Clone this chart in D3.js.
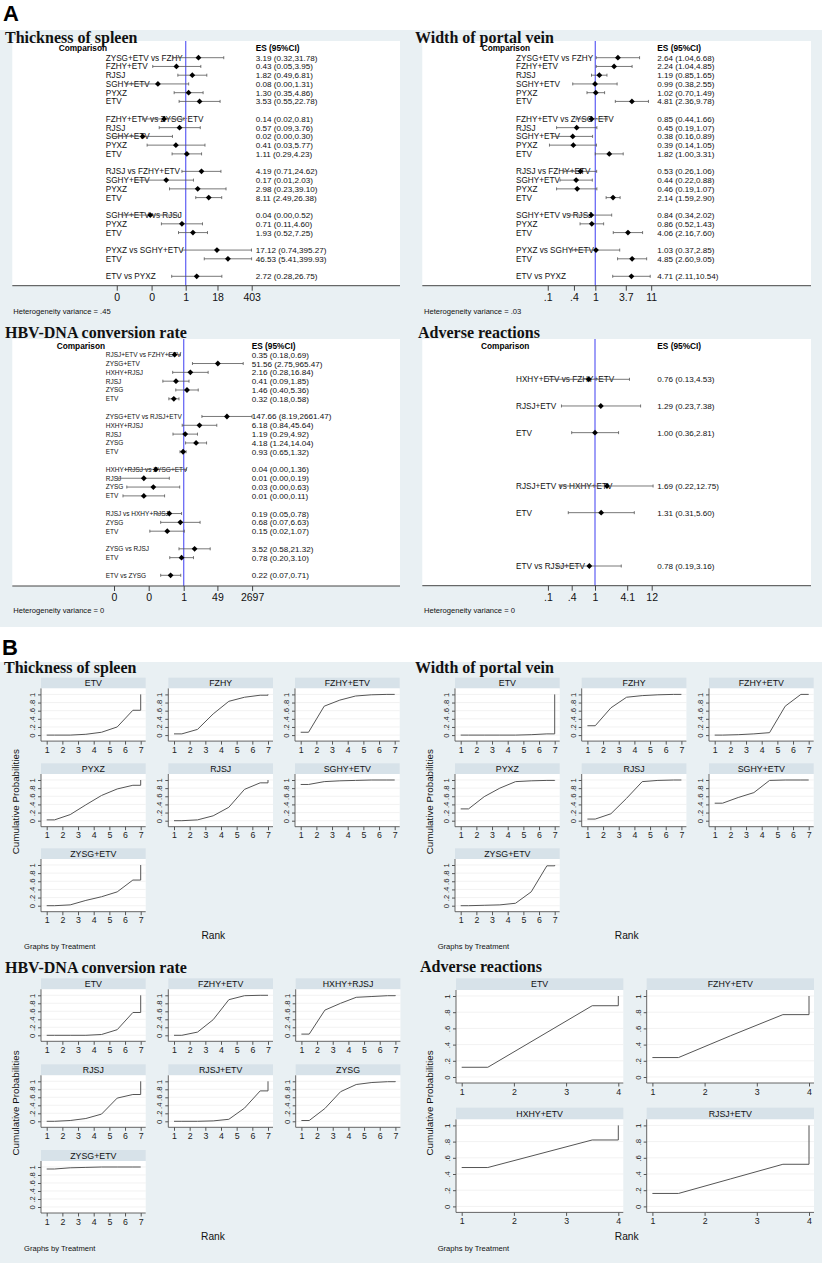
<!DOCTYPE html>
<html>
<head>
<meta charset="utf-8">
<script src="https://cdn.jsdelivr.net/npm/d3@7"></script>
<style>
  body { margin: 0; background: #fff; }
</style>
</head>
<body>
<svg id="fig" width="830" height="1266" font-family='"Liberation Sans", Arial, sans-serif'></svg>
<script>
// ---------- forest plot data (A) ----------
var spleenGroups = [6, 5, 4, 3, 2, 1];
var spleenLabels = ["ZYSG+ETV vs FZHY", "FZHY+ETV", "RJSJ", "SGHY+ETV", "PYXZ", "ETV",
  "FZHY+ETV vs ZYSG+ETV", "RJSJ", "SGHY+ETV", "PYXZ", "ETV",
  "RJSJ vs FZHY+ETV", "SGHY+ETV", "PYXZ", "ETV",
  "SGHY+ETV vs RJSJ", "PYXZ", "ETV",
  "PYXZ vs SGHY+ETV", "ETV",
  "ETV vs PYXZ"];
var spleenES = [3.19, 0.43, 1.82, 0.08, 1.30, 3.53, 0.14, 0.57, 0.02, 0.41, 1.11, 4.19, 0.17, 2.98, 8.11, 0.04, 0.71, 1.93, 17.12, 46.53, 2.72];
var spleenLo = [0.32, 0.05, 0.49, 0.0049, 0.35, 0.55, 0.02, 0.09, 0.0013, 0.03, 0.29, 0.71, 0.01, 0.23, 2.49, 0.0031, 0.11, 0.52, 0.74, 5.41, 0.28];
var spleenHi = [31.78, 3.95, 6.81, 1.31, 4.86, 22.78, 0.81, 3.76, 0.30, 5.77, 4.23, 24.62, 2.03, 39.10, 26.38, 0.52, 4.60, 7.25, 395.27, 399.93, 26.75];
var spleenTicks = [0.0019, 0.045, 1, 18, 403];
var spleenTickLabels = ["0", "0", "1", "18", "403"];

var portalGroups = [6, 5, 4, 3, 2, 1];
var portalLabels = spleenLabels.slice();
var portalES = [2.64, 2.24, 1.19, 0.99, 1.02, 4.81, 0.85, 0.45, 0.38, 0.39, 1.82, 0.53, 0.44, 0.46, 2.14, 0.84, 0.86, 4.06, 1.03, 4.85, 4.71];
var portalLo = [1.04, 1.04, 0.85, 0.38, 0.70, 2.36, 0.44, 0.19, 0.16, 0.14, 1.00, 0.26, 0.22, 0.19, 1.59, 0.34, 0.52, 2.16, 0.37, 2.60, 2.11];
var portalHi = [6.68, 4.85, 1.65, 2.55, 1.49, 9.78, 1.66, 1.07, 0.89, 1.05, 3.31, 1.06, 0.88, 1.07, 2.90, 2.02, 1.43, 7.60, 2.85, 9.05, 10.54];
var portalTicks = [0.13, 0.4, 1, 3.7, 11];
var portalTickLabels = [".1", ".4", "1", "3.7", "11"];

var hbvGroups = [6, 5, 4, 3, 2, 1];
var hbvLabels = ["RJSJ+ETV vs FZHY+ETV", "ZYSG+ETV", "HXHY+RJSJ", "RJSJ", "ZYSG", "ETV",
  "ZYSG+ETV vs RJSJ+ETV", "HXHY+RJSJ", "RJSJ", "ZYSG", "ETV",
  "HXHY+RJSJ vs ZYSG+ETV", "RJSJ", "ZYSG", "ETV",
  "RJSJ vs HXHY+RJSJ", "ZYSG", "ETV",
  "ZYSG vs RJSJ", "ETV",
  "ETV vs ZYSG"];
var hbvES = [0.35, 51.56, 2.16, 0.41, 1.46, 0.32, 147.66, 6.18, 1.19, 4.18, 0.93, 0.04, 0.01, 0.03, 0.01, 0.19, 0.68, 0.15, 3.52, 0.78, 0.22];
var hbvLo = [0.18, 2.75, 0.28, 0.09, 0.40, 0.18, 8.19, 0.84, 0.29, 1.24, 0.65, 0.0012, 0.0005, 0.0014, 0.0009, 0.05, 0.07, 0.02, 0.58, 0.20, 0.07];
var hbvHi = [0.69, 965.47, 16.84, 1.85, 5.36, 0.58, 2661.47, 45.64, 4.92, 14.04, 1.32, 1.36, 0.19, 0.63, 0.11, 0.78, 6.63, 1.07, 21.32, 3.10, 0.71];
var hbvTicks = [0.00032, 0.0175, 1, 49, 2697];
var hbvTickLabels = ["0", "0", "1", "49", "2697"];

var adverseGroups = [3, 2, 1];
var adverseLabels = ["HXHY+ETV vs FZHY+ETV", "RJSJ+ETV", "ETV", "RJSJ+ETV vs HXHY+ETV", "ETV", "ETV vs RJSJ+ETV"];
var adverseES = [0.76, 1.29, 1.00, 1.69, 1.31, 0.78];
var adverseLo = [0.13, 0.23, 0.36, 0.22, 0.31, 0.19];
var adverseHi = [4.53, 7.38, 2.81, 12.75, 5.60, 3.16];
var adverseTicks = [0.127, 0.36, 1, 4.1, 12];
var adverseTickLabels = [".1", ".4", "1", "4.1", "12"];

// ---------- cumulative rank data (B) ----------
var rankTicks7 = [1, 2, 3, 4, 5, 6, 7];
var rankTicks4 = [1, 2, 3, 4];
var probTicks = [0, 0.2, 0.4, 0.6, 0.8, 1];
var probTickLabels = ["0", ".2", ".4", ".6", ".8", "1"];

var spleenTreat = ["ETV", "FZHY", "FZHY+ETV", "PYXZ", "RJSJ", "SGHY+ETV", "ZYSG+ETV"];
var spleenCum = [
  [0.00, 0.00, 0.02, 0.07, 0.20, 0.61, 1],
  [0.03, 0.14, 0.52, 0.83, 0.93, 0.98, 1],
  [0.07, 0.71, 0.86, 0.96, 0.99, 1.00, 1],
  [0.02, 0.15, 0.39, 0.62, 0.78, 0.87, 1],
  [0.00, 0.02, 0.12, 0.33, 0.77, 0.93, 1],
  [0.89, 0.96, 0.98, 0.99, 1.00, 1.00, 1],
  [0.00, 0.02, 0.13, 0.22, 0.34, 0.63, 1]
];
var portalTreat = ["ETV", "FZHY", "FZHY+ETV", "PYXZ", "RJSJ", "SGHY+ETV", "ZYSG+ETV"];
var portalCum = [
  [0.00, 0.00, 0.00, 0.00, 0.01, 0.03, 1],
  [0.23, 0.67, 0.93, 0.97, 0.99, 1.00, 1],
  [0.00, 0.01, 0.03, 0.06, 0.71, 1.00, 1],
  [0.29, 0.59, 0.80, 0.96, 0.98, 0.99, 1],
  [0.04, 0.17, 0.55, 0.96, 0.99, 1.00, 1],
  [0.43, 0.57, 0.69, 0.99, 1.00, 1.00, 1],
  [0.00, 0.01, 0.02, 0.06, 0.34, 0.98, 1]
];
var hbvTreat = ["ETV", "FZHY+ETV", "HXHY+RJSJ", "RJSJ", "RJSJ+ETV", "ZYSG", "ZYSG+ETV"];
var hbvCum = [
  [0.00, 0.00, 0.00, 0.02, 0.14, 0.57, 1],
  [0.00, 0.08, 0.39, 0.89, 0.99, 1.00, 1],
  [0.03, 0.63, 0.80, 0.95, 0.97, 0.99, 1],
  [0.00, 0.02, 0.07, 0.18, 0.58, 0.67, 1],
  [0.00, 0.00, 0.01, 0.05, 0.33, 0.76, 1],
  [0.02, 0.32, 0.74, 0.92, 0.97, 0.99, 1],
  [0.95, 0.98, 0.99, 1.00, 1.00, 1.00, 1]
];
var adverseTreat = ["ETV", "FZHY+ETV", "HXHY+ETV", "RJSJ+ETV"];
var adverseCum = [
  [0.12, 0.50, 0.88, 1],
  [0.24, 0.51, 0.77, 1],
  [0.48, 0.65, 0.82, 1],
  [0.16, 0.34, 0.52, 1]
];

var svg = d3.select("#fig");
var bg = "#e9f0f3", stripFill = "#d7e2e9";
var sans = '"Liberation Sans", Arial, sans-serif';
var serif = '"Liberation Serif", "Times New Roman", serif';
var fmt = d3.format(".2f");

// panel backgrounds
svg.append("rect").attr("x", 0).attr("y", 30).attr("width", 822).attr("height", 597).attr("fill", bg);
svg.append("rect").attr("x", 0).attr("y", 662).attr("width", 822).attr("height", 601).attr("fill", bg);

svg.append("text").attr("x", 3).attr("y", 21).attr("font-size", 22).attr("font-weight", "bold").text("A");
svg.append("text").attr("x", 2).attr("y", 655).attr("font-size", 22).attr("font-weight", "bold").text("B");

function title(x, y, t) {
  svg.append("text").attr("x", x).attr("y", y).attr("font-family", serif)
    .attr("font-size", 16).attr("font-weight", "bold").attr("fill", "#111").text(t);
}

function drawForest(o) {
  var g = svg.append("g");
  g.append("rect").attr("x", o.left).attr("y", o.top)
    .attr("width", o.right - o.left).attr("height", o.axisY - o.top).attr("fill", "#fff");

  var x = d3.scaleLog().domain([1 / o.span, o.span]).range([o.center - o.half, o.center + o.half]);

  var slots = [], s = 0;
  o.groups.forEach(function (n) {
    for (var i = 0; i < n; i++) slots.push(s++);
    s++;
  });
  var y = d3.scaleLinear().domain([0, slots[slots.length - 1]]).range([o.row0, o.rowN]);

  g.append("text").attr("x", o.compX).attr("y", o.headerY + 3).attr("font-size", 8.3)
    .attr("font-weight", "bold").text("Comparison");
  g.append("text").attr("x", o.valueX).attr("y", o.headerY + 3).attr("font-size", 8.3)
    .attr("font-weight", "bold").text("ES (95%CI)");

  g.selectAll(".lab").data(o.labels).enter().append("text")
    .attr("x", o.labelX).attr("y", function (d, i) { return y(slots[i]) + o.labelSize * 0.37; })
    .attr("font-size", o.labelSize).attr("fill", "#111").text(function (d) { return d; });

  g.selectAll(".val").data(o.es).enter().append("text")
    .attr("x", o.valueX).attr("y", function (d, i) { return y(slots[i]) + 3; })
    .attr("font-size", 8.1).attr("fill", "#111")
    .text(function (d, i) { return fmt(d) + " (" + fmt(o.lo[i]) + "," + fmt(o.hi[i]) + ")"; });

  // reference line at 1
  g.append("line").attr("x1", x(1)).attr("x2", x(1)).attr("y1", o.top).attr("y2", o.axisY)
    .attr("stroke", "#6a6af5").attr("stroke-width", 1.3);

  // CIs
  o.es.forEach(function (d, i) {
    var yy = y(slots[i]);
    g.append("line").attr("x1", x(o.lo[i])).attr("x2", x(o.hi[i])).attr("y1", yy).attr("y2", yy)
      .attr("stroke", "#555").attr("stroke-width", 0.8);
    [o.lo[i], o.hi[i]].forEach(function (v) {
      g.append("line").attr("x1", x(v)).attr("x2", x(v)).attr("y1", yy - 1.5).attr("y2", yy + 1.5)
        .attr("stroke", "#555").attr("stroke-width", 0.8);
    });
    g.append("path").attr("d", d3.symbol(d3.symbolSquare, 17)())
      .attr("transform", "translate(" + x(d) + "," + yy + ") rotate(45)").attr("fill", "#000");
  });

  // axis
  g.append("line").attr("x1", o.left).attr("x2", o.right).attr("y1", o.axisY).attr("y2", o.axisY)
    .attr("stroke", "#444").attr("stroke-width", 1);
  var ax = g.append("g").attr("transform", "translate(0," + o.axisY + ")")
    .call(d3.axisBottom(x).tickValues(o.ticks)
      .tickFormat(function (d, i) { return o.tickLabels[i]; }).tickSize(5).tickPadding(3));
  ax.select(".domain").remove();
  ax.selectAll("line").attr("stroke", "#444");
  ax.selectAll("text").attr("font-size", 10.5).attr("fill", "#111").attr("font-family", sans);

  g.append("text").attr("x", o.hetX).attr("y", o.hetY + 2.7).attr("font-size", 7.6)
    .attr("fill", "#111").text(o.het);
}

drawForest({ left: 12.3, right: 400, top: 41, axisY: 285.7, center: 185.7, span: 403, half: 66,
  row0: 57.7, rowN: 276.3, labelX: 105.7, valueX: 255.7, compX: 58.7, headerY: 48, labelSize: 8.2,
  groups: spleenGroups, labels: spleenLabels, es: spleenES, lo: spleenLo, hi: spleenHi,
  ticks: spleenTicks, tickLabels: spleenTickLabels, het: "Heterogeneity variance = .45", hetX: 13.3, hetY: 311.7 });
drawForest({ left: 422.3, right: 811, top: 41, axisY: 285.7, center: 595.3, span: 11, half: 55.9,
  row0: 57.7, rowN: 276.3, labelX: 516, valueX: 657.3, compX: 481.7, headerY: 48, labelSize: 8.2,
  groups: portalGroups, labels: portalLabels, es: portalES, lo: portalLo, hi: portalHi,
  ticks: portalTicks, tickLabels: portalTickLabels, het: "Heterogeneity variance = .03", hetX: 424, hetY: 311.7 });
drawForest({ left: 12.3, right: 400, top: 339, axisY: 586, center: 183.7, span: 2697, half: 68.4,
  row0: 354.7, rowN: 575.3, labelX: 105.7, valueX: 251.7, compX: 56.7, headerY: 345.7, labelSize: 6.5,
  groups: hbvGroups, labels: hbvLabels, es: hbvES, lo: hbvLo, hi: hbvHi,
  ticks: hbvTicks, tickLabels: hbvTickLabels, het: "Heterogeneity variance = 0", hetX: 13.3, hetY: 610 });
drawForest({ left: 422.3, right: 811, top: 339, axisY: 585.7, center: 595, span: 12, half: 56.7,
  row0: 379.3, rowN: 566, labelX: 516, valueX: 657.3, compX: 481, headerY: 346, labelSize: 8.2,
  groups: adverseGroups, labels: adverseLabels, es: adverseES, lo: adverseLo, hi: adverseHi,
  ticks: adverseTicks, tickLabels: adverseTickLabels, het: "Heterogeneity variance = 0", hetX: 424, hetY: 610 });

title(5, 42.5, "Thickness of spleen");
title(415, 42.5, "Width of portal vein");
title(5, 337.8, "HBV-DNA conversion rate");
title(418, 337.8, "Adverse reactions");

// ---------- cumulative probability small multiples ----------
function drawRanks(o) {
  var g = svg.append("g");
  o.treat.forEach(function (t, k) {
    var cx = o.cols[k % o.cols.length], ty = o.rows[Math.floor(k / o.cols.length)];
    var pTop = ty + o.stripH, pBot = pTop + o.plotH;
    var n = o.ranks.length;
    g.append("rect").attr("x", cx).attr("y", ty).attr("width", o.width).attr("height", o.stripH).attr("fill", stripFill);
    g.append("text").attr("x", cx + o.width / 2).attr("y", ty + o.stripH / 2 + 3.2)
      .attr("text-anchor", "middle").attr("font-size", 8.8).attr("fill", "#111").text(t);
    g.append("rect").attr("x", cx).attr("y", pTop).attr("width", o.width).attr("height", o.plotH).attr("fill", "#fff");

    var x = d3.scaleLinear().domain([1, n]).range([cx + 5.7, cx + o.width - 5]);
    var y = d3.scaleLinear().domain([0, 1]).range([pBot - 6, pTop + 6]);

    g.selectAll(null).data(probTicks).enter().append("line")
      .attr("x1", cx).attr("x2", cx + o.width).attr("y1", function (d) { return y(d); }).attr("y2", function (d) { return y(d); })
      .attr("stroke", "#ececec").attr("stroke-width", 0.7);

    var ay = g.append("g").attr("transform", "translate(" + cx + ",0)")
      .call(d3.axisLeft(y).tickValues(probTicks).tickFormat(function (d, i) { return probTickLabels[i]; }).tickSize(3));
    ay.select(".domain").remove();
    ay.selectAll("line").attr("stroke", "#555");
    ay.selectAll("text").attr("x", 0).attr("dy", 0).attr("text-anchor", "middle")
      .attr("transform", "translate(-6,0) rotate(-90)").attr("font-size", o.yFont).attr("fill", "#222")
      .attr("font-family", sans);

    var axb = g.append("g").attr("transform", "translate(0," + pBot + ")")
      .call(d3.axisBottom(x).tickValues(o.ranks).tickFormat(d3.format("d")).tickSize(3.5).tickPadding(2));
    axb.select(".domain").remove();
    axb.selectAll("line").attr("stroke", "#555");
    axb.selectAll("text").attr("font-size", 8.8).attr("fill", "#222").attr("font-family", sans);

    g.append("line").attr("x1", cx).attr("x2", cx).attr("y1", pTop).attr("y2", pBot).attr("stroke", "#555").attr("stroke-width", 0.9);
    g.append("line").attr("x1", cx).attr("x2", cx + o.width).attr("y1", pBot).attr("y2", pBot).attr("stroke", "#555").attr("stroke-width", 0.9);

    var c = o.cum[k];
    var pts = [[1, c[0]]];
    for (var i = 0; i < n - 1; i++) pts.push([i + 1.5, c[i]]);
    pts.push([n, c[n - 2]]);
    pts.push([n, c[n - 1]]);
    g.append("path").datum(pts)
      .attr("d", d3.line().x(function (d) { return x(d[0]); }).y(function (d) { return y(d[1]); }))
      .attr("fill", "none").attr("stroke", "#555").attr("stroke-width", 1);
  });

  g.append("text").attr("transform", "translate(" + o.cpX + "," + o.cpY + ") rotate(-90)")
    .attr("text-anchor", "middle").attr("dy", "0.35em").attr("font-size", 9.8).attr("fill", "#111")
    .text("Cumulative Probabilities");
  g.append("text").attr("x", o.rankX).attr("y", o.rankY + 3.6).attr("text-anchor", "middle")
    .attr("font-size", 10.2).attr("fill", "#111").text("Rank");
  g.append("text").attr("x", o.gbX).attr("y", o.gbY + 2.7).attr("font-size", 7.6)
    .attr("fill", "#111").text("Graphs by Treatment");
}

drawRanks({ treat: spleenTreat, cum: spleenCum, ranks: rankTicks7, cols: [41, 168.3, 295], rows: [677.7, 763.3, 848.3],
  width: 104.7, stripH: 10.7, plotH: 52.7, yFont: 7.6, cpX: 16, cpY: 801.7, rankX: 213.3, rankY: 935, gbX: 24, gbY: 946.7 });
drawRanks({ treat: portalTreat, cum: portalCum, ranks: rankTicks7, cols: [455, 581.7, 709], rows: [677.7, 763.3, 848.3],
  width: 104.7, stripH: 10.7, plotH: 52.7, yFont: 7.6, cpX: 430, cpY: 801.7, rankX: 626.7, rankY: 935, gbX: 437.7, gbY: 946.7 });
drawRanks({ treat: hbvTreat, cum: hbvCum, ranks: rankTicks7, cols: [41, 168.3, 295.7], rows: [978.3, 1064.3, 1150],
  width: 104.7, stripH: 11, plotH: 52, yFont: 7.6, cpX: 16, cpY: 1103, rankX: 213, rankY: 1236.7, gbX: 24, gbY: 1248.3 });
drawRanks({ treat: adverseTreat, cum: adverseCum, ranks: rankTicks4, cols: [456, 646.7], rows: [978.3, 1107.7],
  width: 167.3, stripH: 11.7, plotH: 93, yFont: 7.8, cpX: 430, cpY: 1103, rankX: 626.7, rankY: 1236, gbX: 437.7, gbY: 1248.3 });

title(4, 673, "Thickness of spleen");
title(415, 673, "Width of portal vein");
title(5, 973, "HBV-DNA conversion rate");
title(420, 971.5, "Adverse reactions");
</script>
</body>
</html>
